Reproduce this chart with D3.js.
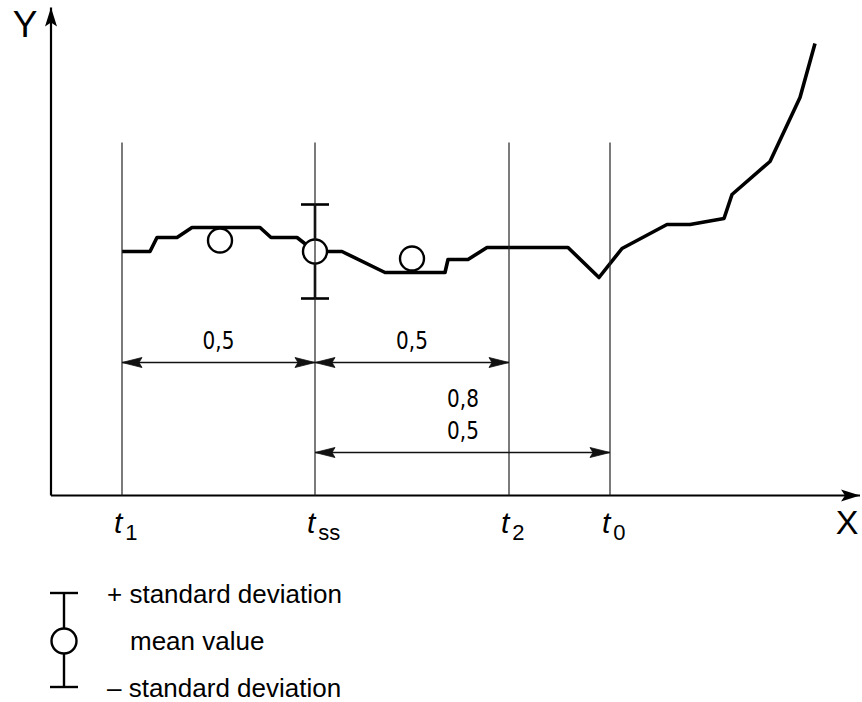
<!DOCTYPE html>
<html>
<head>
<meta charset="utf-8">
<script src="https://cdn.jsdelivr.net/npm/d3@7"></script>
<style>
  body { margin: 0; background: #fff; }
  svg text { font-family: "Liberation Sans", Arial, sans-serif; fill: #000; }
  .dim { font-family: "DejaVu Sans", sans-serif; }
</style>
</head>
<body>
<svg id="chart"></svg>
<script>
let width = 862;
let height = 702;

// curve, x in time units, y in signal units
let curveX = [7.1, 9.9, 10.6, 12.6, 14.1, 20.9, 22.0, 24.6, 26.4, 29.1, 33.4, 39.4, 39.7, 41.7,
              43.6, 51.7, 54.8, 57.1, 61.6, 63.9, 67.3, 68.1, 71.9, 74.9, 76.4];
let curveY = [24.4, 24.4, 25.8, 25.8, 26.8, 26.8, 25.8, 25.8, 24.4, 24.4, 22.3, 22.3, 23.6, 23.6,
              24.8, 24.8, 21.8, 24.7, 27.1, 27.1, 27.7, 30.1, 33.4, 39.8, 45.2];

// mean values
let meanX = [16.9, 26.4, 36.1];
let meanY = [25.5, 24.4, 23.7];
// standard deviation shown at t_ss
let sdX = 26.4;
let sdY = 24.4;
let sdVal = 4.7;

// marked instants
let tNames = ["1", "ss", "2", "0"];
let tValues = [7.1, 26.4, 45.8, 55.9];
let tLineTop = 35.3;

// dimension lines: from, to, level, labels
let dimFrom = [7.1, 26.4, 26.4];
let dimTo = [26.4, 45.8, 55.9];
let dimLevel = [13.3, 13.3, 4.3];
let dimLabels = [["0,5"], ["0,5"], ["0,8", "0,5"]];
let dimLabelX = [16.75, 36.1, 41.2];

let legendLabels = ["+ standard deviation", "mean value", "\u2013 standard deviation"];

let svg = d3.select('#chart')
    .attr('width', width)
    .attr('height', height);

let xScale = d3.scaleLinear()
    .domain([0, 80.9])
    .range([51, 860]);
let yScale = d3.scaleLinear()
    .domain([0, 48.8])
    .range([495.5, 7.5]);

let defs = svg.append('defs');
defs.append('marker')
    .attr('id', 'axisArrow')
    .attr('viewBox', '-20 -7 22 14')
    .attr('refX', 0).attr('refY', 0)
    .attr('markerUnits', 'userSpaceOnUse')
    .attr('markerWidth', 22).attr('markerHeight', 14)
    .attr('orient', 'auto')
    .append('path')
    .attr('d', 'M0,0 L-19,-6 L-15,0 L-19,6 Z')
    .attr('fill', '#000');
defs.append('marker')
    .attr('id', 'dimArrow')
    .attr('viewBox', '-22 -6 23 12')
    .attr('refX', 0).attr('refY', 0)
    .attr('markerUnits', 'userSpaceOnUse')
    .attr('markerWidth', 23).attr('markerHeight', 12)
    .attr('orient', 'auto-start-reverse')
    .append('path')
    .attr('d', 'M0,0 L-20,-5 L-17,0 L-20,5 Z')
    .attr('fill', '#111')
    .attr('stroke', '#111')
    .attr('stroke-width', 0.8);

// axes
let x0 = xScale(0), y0 = yScale(0);
svg.append('line')
    .attr('x1', x0).attr('y1', y0)
    .attr('x2', xScale.range()[1]).attr('y2', y0)
    .attr('stroke', '#000').attr('stroke-width', 2.2)
    .attr('marker-end', 'url(#axisArrow)');
svg.append('line')
    .attr('x1', x0).attr('y1', y0)
    .attr('x2', x0).attr('y2', yScale.range()[1])
    .attr('stroke', '#000').attr('stroke-width', 2.2)
    .attr('marker-end', 'url(#axisArrow)');

svg.append('text').text('Y')
    .attr('x', 25).attr('y', 37)
    .attr('text-anchor', 'middle')
    .attr('font-size', 37);
svg.append('text').text('X')
    .attr('x', 847).attr('y', 534)
    .attr('text-anchor', 'middle')
    .attr('font-size', 34);

// curve
let line = d3.line()
    .x((d) => xScale(d[0]))
    .y((d) => yScale(d[1]));
svg.append('path')
    .datum(d3.zip(curveX, curveY))
    .attr('d', line)
    .attr('fill', 'none')
    .attr('stroke', '#000')
    .attr('stroke-width', 3.6)
    .attr('stroke-linejoin', 'round');

// standard deviation bar
let sdG = svg.append('g')
    .attr('stroke', '#000').attr('stroke-width', 2.6);
sdG.append('line')
    .attr('x1', xScale(sdX)).attr('x2', xScale(sdX))
    .attr('y1', yScale(sdY + sdVal)).attr('y2', yScale(sdY - sdVal));
[sdY + sdVal, sdY - sdVal].forEach((v) => {
    sdG.append('line')
        .attr('x1', xScale(sdX) - 14).attr('x2', xScale(sdX) + 14)
        .attr('y1', yScale(v)).attr('y2', yScale(v));
});

// means
svg.append('g').selectAll('circle')
    .data(d3.zip(meanX, meanY))
    .join('circle')
    .attr('cx', (d) => xScale(d[0]))
    .attr('cy', (d) => yScale(d[1]))
    .attr('r', 12)
    .attr('fill', '#fff')
    .attr('stroke', '#000')
    .attr('stroke-width', 2.4);

// vertical lines at the instants
svg.append('g').selectAll('line')
    .data(tValues)
    .join('line')
    .attr('x1', (d) => xScale(d)).attr('x2', (d) => xScale(d))
    .attr('y1', yScale(tLineTop)).attr('y2', y0)
    .attr('stroke', '#222').attr('stroke-width', 1.2);

// instant labels
let tLab = svg.append('g').selectAll('text')
    .data(d3.zip(tNames, tValues))
    .join('text')
    .attr('x', (d) => xScale(d[1]) - 8)
    .attr('y', 533)
    .attr('font-size', 30);
tLab.append('tspan').text('t').attr('font-style', 'italic');
tLab.append('tspan').text((d) => d[0])
    .attr('font-size', 22)
    .attr('dx', 3)
    .attr('dy', 7);

// dimension lines
let dimG = svg.append('g');
dimFrom.forEach((f, i) => {
    dimG.append('line')
        .attr('x1', xScale(f)).attr('x2', xScale(dimTo[i]))
        .attr('y1', yScale(dimLevel[i])).attr('y2', yScale(dimLevel[i]))
        .attr('stroke', '#111').attr('stroke-width', 1.3)
        .attr('marker-start', 'url(#dimArrow)')
        .attr('marker-end', 'url(#dimArrow)');
    let n = dimLabels[i].length;
    dimLabels[i].forEach((lab, j) => {
        let tx = xScale(dimLabelX[i]);
        let ty = yScale(dimLevel[i]) - 14 - (n - 1 - j) * 32;
        dimG.append('text')
            .attr('class', 'dim')
            .text(lab)
            .attr('transform', `translate(${tx},${ty}) scale(0.8,1)`)
            .attr('text-anchor', 'middle')
            .attr('font-size', 25);
    });
});

// legend
let lg = svg.append('g').attr('stroke', '#000').attr('stroke-width', 2.4);
let lx = 64, lTop = 593, lBot = 687, lMid = 641;
lg.append('line').attr('x1', lx).attr('x2', lx).attr('y1', lTop).attr('y2', lBot);
[lTop, lBot].forEach((v) => {
    lg.append('line').attr('x1', lx - 14).attr('x2', lx + 14).attr('y1', v).attr('y2', v);
});
lg.append('circle').attr('cx', lx).attr('cy', lMid).attr('r', 12.5).attr('fill', '#fff');

svg.append('g').selectAll('text')
    .data(legendLabels)
    .join('text')
    .text((d) => d)
    .attr('x', (d, i) => i == 1 ? 130 : 107)
    .attr('y', (d, i) => 603 + i * 47)
    .attr('font-size', 26);
</script>
</body>
</html>
